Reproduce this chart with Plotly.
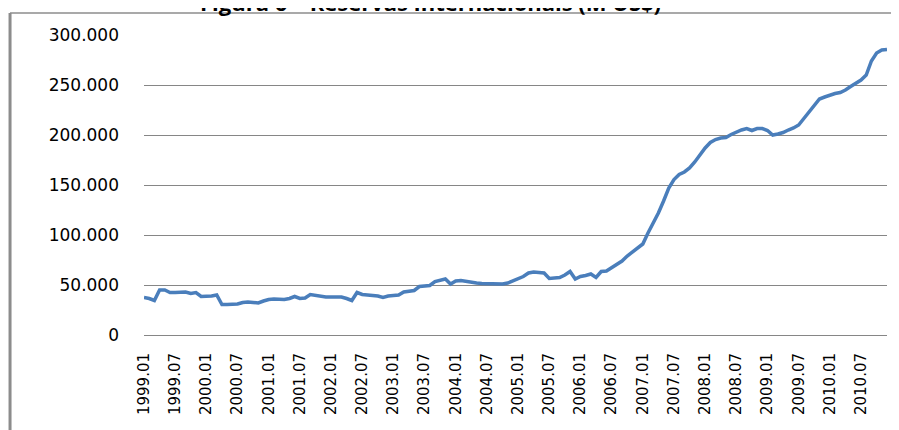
"""
Figura 6 - Reservas Internacionais (M US$)
Monthly line chart, 1999.01 - 2010.12
"""

import plotly.graph_objects as go

# Reserves, US$ million, one list per year (Jan..Dec)
r1999 = [37500, 36500, 34500, 45000, 45000, 42500, 42500, 42500, 43000, 41500, 42500, 38500]
r2000 = [38500, 39000, 40000, 30500, 30500, 30500, 31000, 32500, 33000, 32500, 32000, 34000]
r2001 = [35500, 36000, 35500, 35500, 36500, 38500, 36500, 37000, 40500, 39500, 38500, 38000]
r2002 = [38000, 38000, 38000, 36500, 34500, 42500, 40500, 40000, 39500, 39000, 37500, 39000]
r2003 = [39500, 40000, 43000, 43500, 44500, 48500, 49000, 49500, 53500, 55000, 56000, 51000]
r2004 = [54000, 54500, 53500, 52500, 52000, 51500, 51500, 51000, 51000, 51000, 52000, 54000]
r2005 = [56000, 58500, 62000, 63000, 62500, 62000, 56500, 57000, 57500, 60000, 63500, 56000]
r2006 = [58500, 59500, 61000, 57500, 63500, 64000, 67000, 70500, 74000, 79000, 83000, 86500]
r2007 = [91000, 102000, 112000, 122000, 134000, 147000, 155500, 160500, 163000, 167000, 173000, 180000]
r2008 = [187000, 192500, 195500, 197000, 197500, 200500, 203000, 205000, 206500, 204500, 206500, 206500]
r2009 = [204500, 200000, 201000, 202500, 205000, 207000, 210000, 216500, 223000, 229000, 236000, 238000]
r2010 = [240000, 241500, 242500, 245000, 248500, 252000, 255000, 260000, 274000, 282000, 285000, 285500]

years = list(range(1999, 2011))
reserves = r1999 + r2000 + r2001 + r2002 + r2003 + r2004 + r2005 + r2006 + r2007 + r2008 + r2009 + r2010
months = [f"{y}.{m:02d}" for y in years for m in range(1, 13)]
tick_labels = [f"{y}.{m:02d}" for y in years for m in (1, 7)]
y_ticks = [0, 50000, 100000, 150000, 200000, 250000, 300000]

GRID = "#868686"
BORDER = "#8c8c8c"

fig = go.Figure()

fig.add_trace(go.Scatter(
    x=months,
    y=reserves,
    mode="lines",
    line=dict(color="#4a7ebb", width=3.5),
    showlegend=False
))

# the page body adds an 8px offset, so margins are pulled in by 8
fig.update_layout(
    width=899,
    height=430,
    margin=dict(l=136, r=20, t=27, b=103),
    paper_bgcolor="white",
    plot_bgcolor="white",
    separators=",.",
    font=dict(family="DejaVu Sans", color="#000000"),
    annotations=[dict(
        text="<b>Figura 6 – Reservas Internacionais (M US$)</b>",
        xref="paper", yref="paper", x=0.385, y=1.055,
        xanchor="center", yanchor="bottom", showarrow=False,
        font=dict(family="Open Sans", size=22, color="#000000")
    )],
    shapes=[
        dict(type="line", xref="paper", yref="paper",
             x0=-0.1803, x1=1.03, y0=1.0733, y1=1.0733,
             line=dict(color=BORDER, width=1.5)),
        dict(type="line", xref="paper", yref="paper",
             x0=-0.1803, x1=-0.1803, y0=1.0733, y1=-0.4,
             line=dict(color=BORDER, width=3))
    ]
)

fig.update_xaxes(
    type="category",
    range=[0, len(months) - 1],
    tickmode="array",
    tickvals=tick_labels,
    ticktext=tick_labels,
    tickangle=-90,
    tickfont=dict(family="DejaVu Sans", size=15, color="#000000"),
    ticks="",
    ticklabelstandoff=14,
    showgrid=False,
    showline=False,
    zeroline=False
)

fig.update_yaxes(
    range=[0, 300000],
    tickmode="array",
    tickvals=y_ticks,
    tickformat=",d",
    tickfont=dict(family="DejaVu Sans", size=17, color="#000000"),
    ticks="",
    ticklabelstandoff=24,
    showgrid=True,
    gridcolor=GRID,
    gridwidth=1,
    zeroline=True,
    zerolinecolor=GRID,
    zerolinewidth=1,
    showline=False
)

fig.write_html("out.html")
